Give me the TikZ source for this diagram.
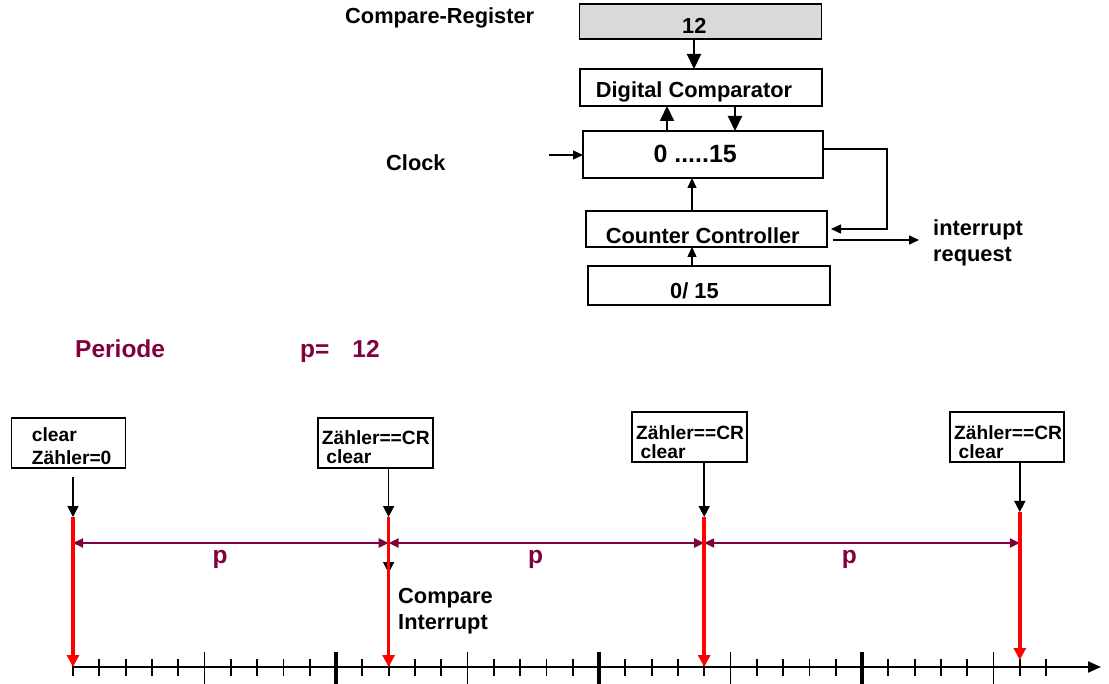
\documentclass[tikz,border=0pt]{standalone}
\usepackage{fontspec}
\setmainfont{Liberation Sans}
\usetikzlibrary{arrows.meta}
\usetikzlibrary{positioning}
\definecolor{periodcol}{RGB}{128,0,64}
\tikzset{blk/.style={rectangle,draw=black,line width=1.8pt,inner sep=0pt,outer sep=0pt}}
\tikzset{lbl/.style={inner sep=0pt,align=left,font=\fontsize{21.8}{26}\selectfont\bfseries}}
\tikzset{boxlbl/.style={inner sep=0pt,align=left,font=\fontsize{19.2}{18.3}\selectfont\bfseries}}
\tikzset{plbl/.style={inner sep=0pt,text=periodcol,font=\fontsize{24.5}{28}\selectfont\bfseries}}
\tikzset{bigarr/.style={line width=2pt,-{Triangle[length=15pt,width=14pt]}}}
\tikzset{smallarr/.style={line width=1.5pt,-{Triangle[length=10pt,width=9pt]}}}
\tikzset{downarr/.style={line width=1.6pt,-{Triangle[length=11pt,width=11pt]}}}
\tikzset{redarr/.style={red,line width=3.5pt,-{Triangle[length=12pt,width=12pt]}}}
\tikzset{parr/.style={periodcol,line width=2.2pt,{Triangle[length=10pt,width=9pt]}-{Triangle[length=10pt,width=9pt]}}}
\tikzset{axisarr/.style={line width=2.2pt,-{Triangle[length=13pt,width=11pt]}}}

\begin{document}
\begin{tikzpicture}[x=1pt,y=-1pt]
\useasboundingbox (0,0) rectangle (1109,684);

% counter block diagram
\node[blk, fill=black!15, minimum width=242pt, minimum height=35pt] (creg) at (700.5,21.5) {};
\node[lbl, anchor=base west] (cregval) at (682,33.3) {12};
\node[lbl, anchor=base west] (cregname) at (345,24) {Compare-Register};
\node[blk, minimum width=242pt, minimum height=37pt] (comp) at (701,87.5) {};
\node[lbl, anchor=base west] (comptxt) at (595.7,97.3) {Digital Comparator};
\node[blk, minimum width=240pt, minimum height=47pt] (cnt) at (703,154.5) {};
\node[lbl, anchor=base west, font=\fontsize{25}{30}\selectfont\bfseries] (cnttxt) at (653.3,162.5) {0 .....15};
\node[blk, minimum width=241pt, minimum height=36pt] (ctrl) at (706.5,229) {};
\node[lbl, anchor=base west] (ctrltxt) at (605.7,243.3) {Counter Controller};
\node[blk, minimum width=242pt, minimum height=39pt] (init) at (709,285.5) {};
\node[lbl, anchor=base west] (inittxt) at (670,298.3) {0/ 15};
\node[lbl, anchor=base west] (clklbl) at (386,171) {Clock};
\node[lbl, anchor=base west] (irqlbl) at (933,262) {interrupt\\request};

\coordinate (c1) at (694,0);
\coordinate (c2) at (667,0);
\coordinate (c3) at (735,0);
\coordinate (c4) at (692,0);
\coordinate (clk) at (549,155);
\coordinate (fb) at (887,149);
\coordinate (fbin) at (887,229);
\coordinate (irqa) at (833,240);
\coordinate (irqb) at (919,240);
 \draw[bigarr] (creg.south -| c1) -- (comp.north -| c1);
 \draw[bigarr] (cnt.north -| c2) -- (comp.south -| c2);
 \draw[bigarr] (comp.south -| c3) -- (cnt.north -| c3);
 \draw[smallarr] (clk) -- (cnt.west |- clk);
 \draw[smallarr] (ctrl.north -| c4) -- (cnt.south -| c4);
 \draw[smallarr] (init.north -| c4) -- (ctrl.south -| c4);
 \draw[smallarr] (cnt.east |- fb) -- (fb) -- (fbin) -- ([xshift=4pt]ctrl.east |- fbin);
 \draw[smallarr] (irqa) -- (irqb);

% period
\node[plbl, anchor=base west] (perlbl) at (75,358) {Periode};
\node[plbl, anchor=base west] (pval) at (300,358) {p=\hspace{23pt}12};

% event boxes
\node[blk, minimum width=114pt, minimum height=50pt] (clr) at (68.5,443) {};
\node[boxlbl, anchor=base west, font=\fontsize{19.2}{22.6}\selectfont\bfseries] (clrtxt) at (31.7,464.3) {clear\\Zähler=0};
\node[blk, minimum width=115pt, minimum height=50pt] (cr1) at (375.5,443) {};
\node[boxlbl, anchor=base west] (cr1txt) at (321.7,463.3) {Zähler==CR\\\hspace{4.5pt}clear};
\node[blk, minimum width=115pt, minimum height=50pt] (cr2) at (689.5,437) {};
\node[boxlbl, anchor=base west] (cr2txt) at (636,458.3) {Zähler==CR\\\hspace{4.5pt}clear};
\node[blk, minimum width=114pt, minimum height=50pt] (cr3) at (1007,437) {};
\node[boxlbl, anchor=base west] (cr3txt) at (954,458.3) {Zähler==CR\\\hspace{4.5pt}clear};

\coordinate (m0top) at (73,517);
\coordinate (m1top) at (388.6,517);
\coordinate (m2top) at (704.2,517);
\coordinate (m3top) at (1019.8,512);
\coordinate (m0bot) at (73,667);
\coordinate (m1bot) at (388.6,667);
\coordinate (m2bot) at (704.2,667);
\coordinate (m3bot) at (1019.8,660);
\coordinate (clrout) at (73,477);
\coordinate (p0) at (73,543);
\coordinate (p1) at (388.6,543);
\coordinate (p2) at (704.2,543);
\coordinate (p3) at (1019.8,543);
\coordinate (cmpint) at (388.6,573);
 \draw[downarr] (clrout) -- (m0top);
 \draw[downarr] (cr1.south -| m1top) -- (m1top);
 \draw[downarr] (cr2.south -| m2top) -- (m2top);
 \draw[downarr] (cr3.south -| m3top) -- (m3top);
 \draw[parr] (p0) -- node[plbl, pos=0.466, anchor=base, yshift=-20pt] (pl1) {p} (p1);
 \draw[parr] (p1) -- node[plbl, pos=0.466, anchor=base, yshift=-20pt] (pl2) {p} (p2);
 \draw[parr] (p2) -- node[plbl, pos=0.460, anchor=base, yshift=-20pt] (pl3) {p} (p3);
 \draw[downarr] (p1) -- (cmpint);
\node[lbl, anchor=base west] (cmplbl) at (398,629) {Compare\\Interrupt};

% time axis
\coordinate (ax0) at (73,667);
\coordinate (ax1) at (1101,667);
 \draw[axisarr] (ax0) -- (ax1);
\foreach \i in {0,...,37} {
  \pgfmathsetmacro{\tx}{73+26.3*\i}
  \pgfmathtruncatemacro{\mten}{mod(\i,10)}
  \pgfmathtruncatemacro{\mfive}{mod(\i,5)}
  \ifnum\i=0
    \draw[line width=1.8pt] (\tx,659) -- (\tx,676);
  \else\ifnum\mten=0
    \draw[line width=4pt] (\tx,652) -- (\tx,684);
  \else\ifnum\mfive=0
    \draw[line width=1.8pt] (\tx,652) -- (\tx,684);
  \else
    \draw[line width=1.8pt] (\tx,659) -- (\tx,676);
  \fi\fi\fi
}
 \draw[redarr] (m0top) -- (m0bot);
 \draw[redarr] (m1top) -- (m1bot);
 \draw[redarr] (m2top) -- (m2bot);
 \draw[redarr] (m3top) -- (m3bot);
\end{tikzpicture}
\end{document}
